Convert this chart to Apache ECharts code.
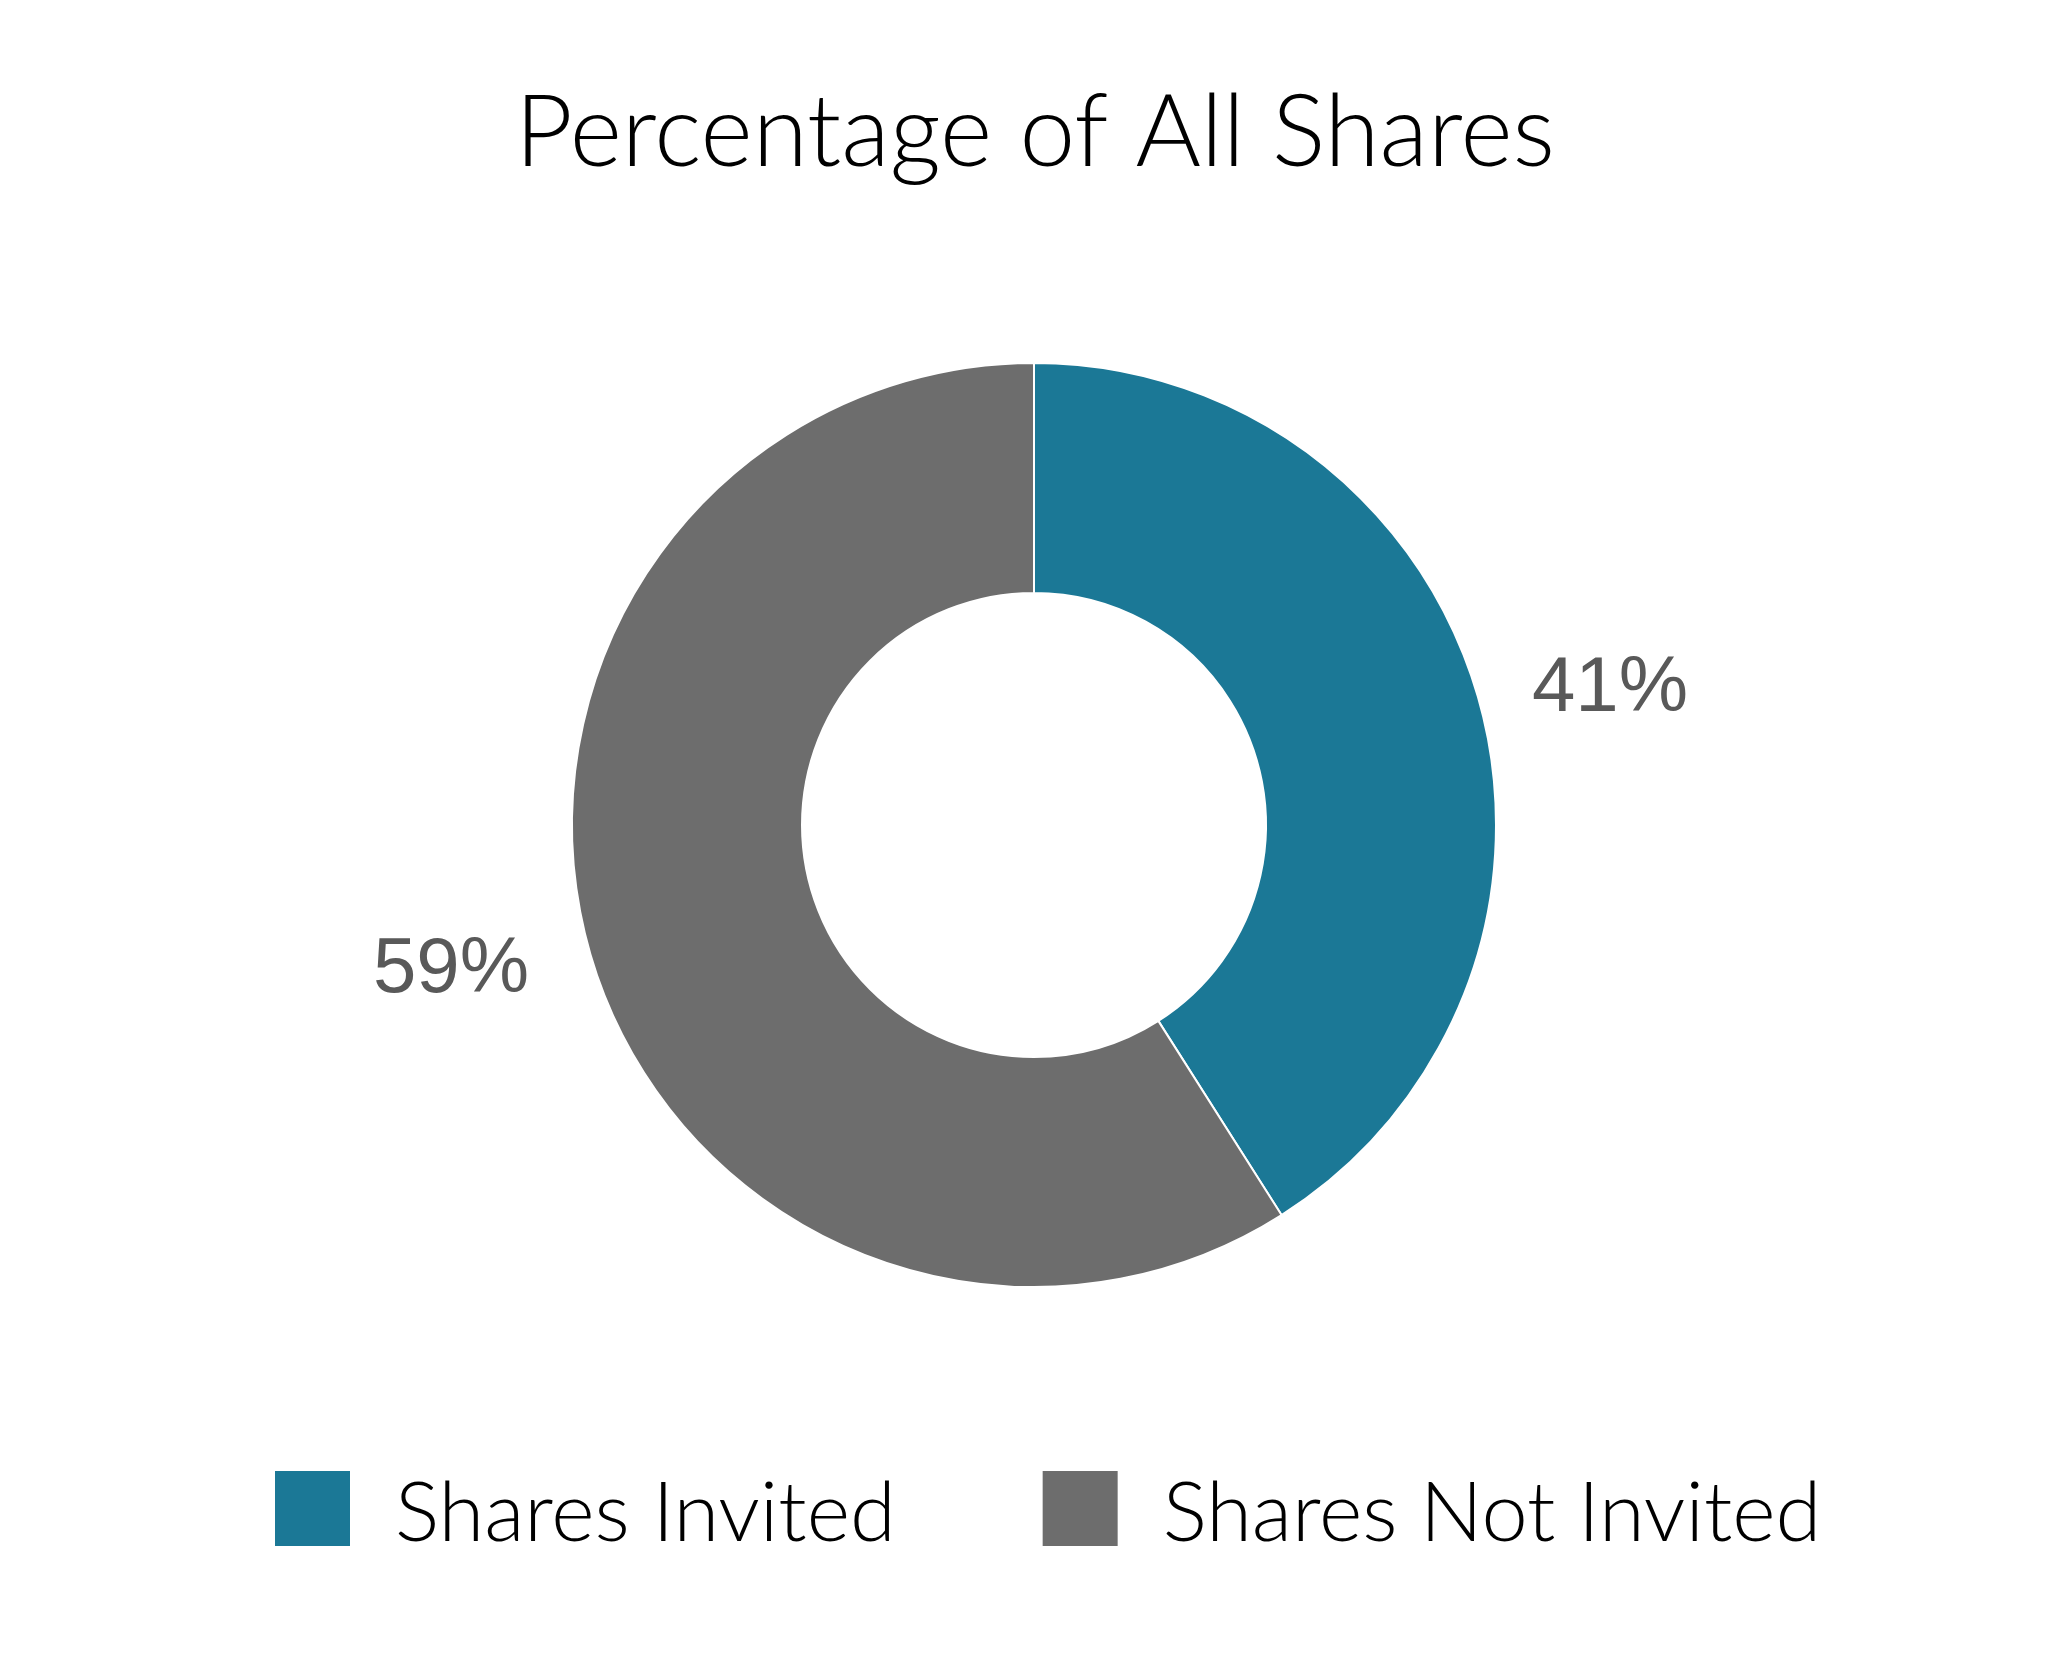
<!DOCTYPE html>
<html>
<head>
<meta charset="utf-8">
<script src="https://cdn.jsdelivr.net/npm/echarts@6/dist/echarts.min.js"></script>
<style>html,body{margin:0;padding:0;background:#fff}#c{width:2070px;height:1680px}</style>
</head>
<body>
<div id="c"></div>
<script>
const titleText = 'Percentage of All Shares';
const categories = ['Shares Invited', 'Shares Not Invited'];
const values = [41, 59];
const colors = ['#1b7896', '#6d6d6d'];

const chart = echarts.init(document.getElementById('c'), null, {renderer: 'canvas'});
chart.setOption({
  backgroundColor: '#ffffff',
  animation: false,
  title: {
    text: titleText,
    left: 'center',
    top: 79,
    textStyle: {fontFamily: 'Lato', fontWeight: 300, fontSize: 100, color: '#000000'}
  },
  legend: {
    data: categories,
    left: 273,
    top: 1469,
    padding: 0,
    icon: 'rect',
    itemWidth: 77,
    itemHeight: 77,
    itemGap: 145,
    formatter: '{t|{name}}',
    textStyle: {
      fontFamily: 'Lato', fontWeight: 300, fontSize: 83, color: '#000000', padding: [0, 0, 0, 39],
      rich: {t: {fontFamily: 'Lato', fontWeight: 300, fontSize: 83, color: '#000000', padding: [12, 0, 0, 0]}}
    }
  },
  series: [{
    type: 'pie',
    center: [1034, 825],
    radius: [232, 462],
    startAngle: 90,
    clockwise: true,
    avoidLabelOverlap: false,
    itemStyle: {borderColor: '#ffffff', borderWidth: 2},
    label: {
      show: true,
      position: 'outside',
      formatter: '{p|{c}%}',
      fontFamily: 'Arial, Liberation Sans',
      fontSize: 78,
      color: '#595959',
      rich: {p: {fontFamily: 'Arial, Liberation Sans', fontSize: 78, color: '#595959', padding: [10, 0, 0, 0]}}
    },
    labelLine: {show: false, length: 42, length2: 16},
    emphasis: {disabled: true},
    data: categories.map((n, i) => ({
      name: n,
      value: values[i],
      itemStyle: {color: colors[i]},
      labelLine: {show: false, length: 42, length2: i === 0 ? 9 : 16}
    }))
  }]
});
</script>
</body>
</html>
